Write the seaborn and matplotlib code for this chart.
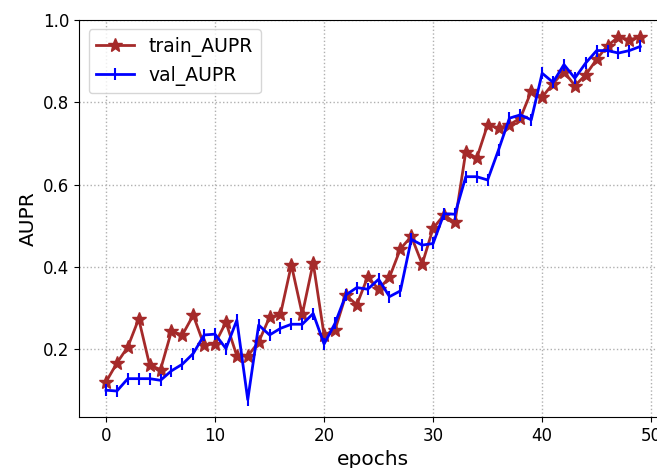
import matplotlib
matplotlib.use("Agg")
import matplotlib.pyplot as plt
import seaborn as sns
import pandas as pd
import numpy as np

epochs = list(range(50))

train_aupr = [
    0.121, 0.167, 0.206, 0.274, 0.162, 0.151, 0.244, 0.235, 0.283, 0.210,
    0.214, 0.266, 0.184, 0.184, 0.218, 0.278, 0.285, 0.405, 0.285, 0.410,
    0.235, 0.247, 0.332, 0.308, 0.376, 0.346, 0.375, 0.444, 0.474, 0.407,
    0.494, 0.526, 0.508, 0.680, 0.664, 0.745, 0.737, 0.745, 0.761, 0.826,
    0.812, 0.845, 0.874, 0.840, 0.866, 0.904, 0.937, 0.958, 0.951, 0.958,
]

val_aupr = [
    0.101, 0.099, 0.129, 0.129, 0.129, 0.125, 0.148, 0.164, 0.190, 0.235,
    0.237, 0.202, 0.271, 0.078, 0.259, 0.235, 0.251, 0.261, 0.261, 0.287,
    0.213, 0.263, 0.332, 0.350, 0.346, 0.370, 0.328, 0.342, 0.467, 0.453,
    0.457, 0.529, 0.528, 0.619, 0.619, 0.611, 0.684, 0.761, 0.769, 0.757,
    0.870, 0.848, 0.891, 0.858, 0.895, 0.925, 0.925, 0.919, 0.925, 0.935,
]

df = pd.DataFrame({"epochs": epochs, "train_AUPR": train_aupr, "val_AUPR": val_aupr})

plt.rcParams["font.family"] = ["DejaVu Sans"]

fig = plt.figure(figsize=(6.57, 4.68), dpi=100)
ax = fig.add_axes([0.1207, 0.109, 0.8945, 0.849])

train_color = "#a52a2a"
val_color = "#0000ff"

sns.lineplot(data=df, x="epochs", y="train_AUPR", ax=ax, color=train_color,
             marker="*", markersize=10, markeredgecolor=train_color,
             markeredgewidth=1, linewidth=2, label="train_AUPR")
sns.lineplot(data=df, x="epochs", y="val_AUPR", ax=ax, color=val_color,
             marker="|", markersize=9, markeredgecolor=val_color,
             markeredgewidth=1.5, linewidth=2, label="val_AUPR")

ax.set_xlim(-2.45, 51.45)
ax.set_ylim(0.036, 1.0)
ax.set_xticks([0, 10, 20, 30, 40, 50])
ax.set_yticks([0.2, 0.4, 0.6, 0.8, 1.0])
ax.tick_params(labelsize=12)
ax.set_xlabel("epochs", fontsize=14.5)
ax.set_ylabel("AUPR", fontsize=14.5)
ax.grid(True, linestyle=":", color="#b0b0b0", linewidth=1)
for s in ax.spines.values():
    s.set_color("black")

ax.legend(loc="upper left", fontsize=13.5)

fig.savefig("out.png", dpi=100)
